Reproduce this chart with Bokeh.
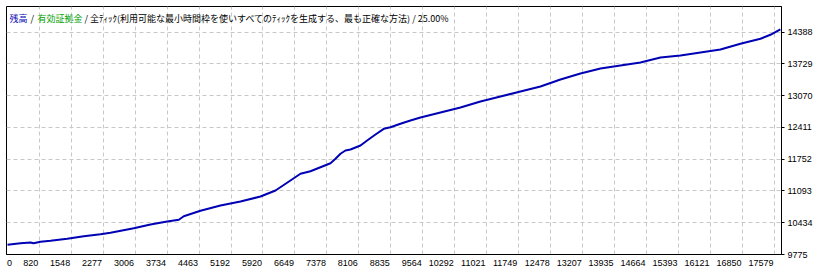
from bokeh.plotting import figure
from bokeh.models import FixedTicker, Range1d, Label
from bokeh.embed import file_html
from bokeh.resources import INLINE

# ---- data ----
trade_no = [98, 394, 622, 690, 850, 1078, 1458, 1837, 2217, 2445, 2976, 3357, 3737,
            4002, 4116, 4496, 4952, 5408, 5864, 6206, 6547, 6775, 7003, 7231, 7459,
            7573, 7687, 7801, 7915, 8143, 8295, 8485, 8674, 8826, 9054, 9282, 9510,
            9966, 10422, 10877, 11333, 11789, 12245, 12701, 13157, 13613, 14068,
            14524, 14980, 15436, 15892, 16347, 16803, 17259, 17486, 17714]
balance = [9976, 10009, 10024, 10009, 10039, 10059, 10101, 10155, 10196, 10225, 10321,
           10398, 10460, 10495, 10570, 10682, 10792, 10875, 10979, 11103, 11311, 11450,
           11503, 11586, 11669, 11761, 11865, 11933, 11954, 12037, 12141, 12265, 12383,
           12416, 12487, 12556, 12618, 12722, 12825, 12950, 13054, 13157, 13261, 13406,
           13531, 13635, 13697, 13759, 13863, 13904, 13967, 14029, 14147, 14251, 14334,
           14444]

x_tick_labels = ["0", "820", "1548", "2277", "3006", "3734", "4463", "5192", "5920",
                 "6649", "7378", "8106", "8835", "9564", "10292", "11021", "11749",
                 "12478", "13207", "13935", "14664", "15393", "16121", "16850", "17579"]
y_ticks = [9775, 10434, 11093, 11752, 12411, 13070, 13729, 14388]

title_parts = ["残高", "/", "有効証拠金",
               "/ 全ﾃｨｯｸ(利用可能な最小時間枠を使いすべてのﾃｨｯｸを生成する、最も正確な方法) / 25.00%"]
title_colors = ["#0000B4", "#000000", "#00A000", "#000000"]

# ---- layout / style ----
W, H = 825, 275
B_LEFT, B_TOP, B_RIGHT, B_BOTTOM = 6, 6, 44, 21
X_START, X_END = 75, 17739
Y_START, Y_END = 9775, 14921
DX = (X_END - X_START) / (W - B_LEFT - B_RIGHT)   # data units per pixel
DIGIT_W = 5.0                                      # px per digit at the label font size

p = figure(width=W, height=H, output_backend="svg", toolbar_location=None,
           x_range=Range1d(X_START, X_END), y_range=Range1d(Y_START, Y_END),
           y_axis_location="right",
           min_border_left=B_LEFT, min_border_top=B_TOP,
           min_border_right=B_RIGHT, min_border_bottom=B_BOTTOM)

p.background_fill_color = "white"
p.border_fill_color = "white"
p.outline_line_color = "black"
p.outline_line_width = 1

# gridlines at the label values; labels sit just left of their gridline (MT4 style)
grid_vals = [float(v) for v in x_tick_labels[1:]]
label_pos = [X_START + 3 * DX] + [v - (1 + len(s) * DIGIT_W / 2) * DX
                                  for v, s in zip(grid_vals, x_tick_labels[1:])]
label_pos = [round(v, 3) for v in label_pos]
p.xaxis.ticker = FixedTicker(ticks=label_pos)
p.xaxis.major_label_overrides = {pos: s for pos, s in zip(label_pos, x_tick_labels)}
p.xgrid.ticker = FixedTicker(ticks=grid_vals)
p.yaxis.ticker = FixedTicker(ticks=y_ticks)
p.ygrid.ticker = FixedTicker(ticks=y_ticks)

label_font = "Liberation Sans"
for ax in (p.xaxis[0], p.yaxis[0]):
    ax.axis_line_color = "black"
    ax.major_tick_line_color = "black"
    ax.major_tick_out = 3
    ax.major_tick_in = 0
    ax.minor_tick_line_color = None
    ax.major_label_text_font = label_font
    ax.major_label_text_font_size = "9px"
    ax.major_label_text_color = "black"
p.xaxis.major_tick_line_color = None
p.xaxis.major_label_standoff = 2
p.yaxis.major_label_standoff = 3

for g in (p.xgrid[0], p.ygrid[0]):
    g.grid_line_color = "#c8c8c8"
    g.grid_line_dash = "4 3"
    g.grid_line_width = 1

p.line(trade_no, balance, line_color="#0000B4", line_width=2)

# title (drawn inside the frame, top-left)
title_x = [3, 24, 31, 78]
for txt, col, tx in zip(title_parts, title_colors, title_x):
    p.add_layout(Label(x=tx, y=243, x_units="screen", y_units="screen", text=txt,
                       text_color=col, text_font="Noto Sans CJK JP",
                       text_font_size="9px", text_baseline="top", text_align="left"))

open("out.html", "w").write(file_html(p, INLINE))
